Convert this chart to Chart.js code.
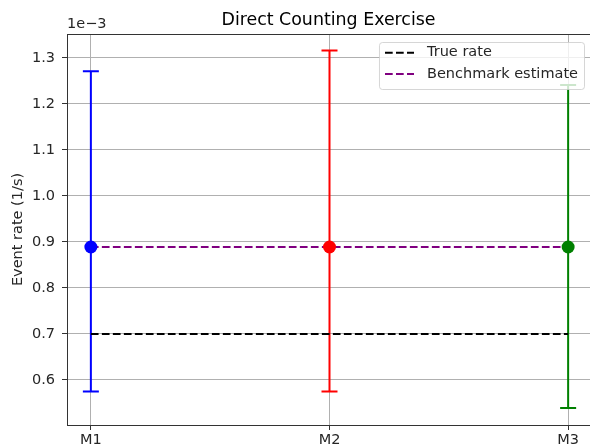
<!DOCTYPE html>
<html>
<head>
<meta charset="utf-8">
<script src="https://cdn.jsdelivr.net/npm/chart.js@4/dist/chart.umd.min.js"></script>
<style>
  html, body { margin: 0; padding: 0; background: #fff; overflow: hidden; }
  #wrap { width: 600px; height: 448px; position: relative; }
</style>
</head>
<body>
<div id="wrap"><canvas id="chart"></canvas></div>
<script>
const categories = ['M1', 'M2', 'M3'];
const rates = [0.000889, 0.000889, 0.000889];
const lower = [0.000575, 0.000575, 0.000539];
const upper = [0.001271, 0.001316, 0.001241];
const colors = ['#0000ff', '#ff0000', '#008000'];
const trueRate = 0.0007;
const benchmark = 0.000889;
const yTicks = [0.0006, 0.0007, 0.0008, 0.0009, 0.001, 0.0011, 0.0012, 0.0013];

const FONT = "'DejaVu Sans', sans-serif";
const SIZE = 14.5;
const TEXT = '#262626';

const decorations = {
  id: 'decorations',
  beforeDatasetsDraw(chart) {
    const { ctx, chartArea, scales: { x, y } } = chart;
    ctx.save();
    ctx.beginPath();
    ctx.rect(chartArea.left, chartArea.top, chartArea.right - chartArea.left, chartArea.bottom - chartArea.top);
    ctx.clip();
    ctx.lineWidth = 2;
    categories.forEach((c, i) => {
      const px = x.getPixelForValue(i);
      const lo = y.getPixelForValue(lower[i]);
      const hi = y.getPixelForValue(upper[i]);
      ctx.strokeStyle = colors[i];
      ctx.beginPath();
      ctx.moveTo(px, lo);
      ctx.lineTo(px, hi);
      ctx.moveTo(px - 8, lo);
      ctx.lineTo(px + 8, lo);
      ctx.moveTo(px - 8, hi);
      ctx.lineTo(px + 8, hi);
      ctx.stroke();
    });
    ctx.restore();
  },
  afterDraw(chart) {
    const { ctx, chartArea } = chart;
    ctx.save();
    // frame
    ctx.strokeStyle = '#333';
    ctx.lineWidth = 1;
    ctx.strokeRect(chartArea.left + 0.5, chartArea.top + 0.5, chartArea.right - chartArea.left, chartArea.bottom - chartArea.top);

    // title
    ctx.fillStyle = '#000';
    ctx.font = '17.4px ' + FONT;
    ctx.textAlign = 'center';
    ctx.textBaseline = 'alphabetic';
    ctx.fillText('Direct Counting Exercise', (chartArea.left + chartArea.right) / 2 - 1, 25);

    // offset text
    ctx.fillStyle = TEXT;
    ctx.font = SIZE + 'px ' + FONT;
    ctx.textAlign = 'left';
    ctx.fillText('1e\u22123', chartArea.left, 28);

    // legend
    const items = chart.data.datasets.filter(d => d.inLegend);
    const textW = Math.max(...items.map(d => ctx.measureText(d.label).width));
    const w = 6 + 29 + 13 + textW + 6;
    const h = 47;
    const bx = chartArea.right - 8 - w;
    const by = chartArea.top + 8;
    ctx.beginPath();
    ctx.roundRect(bx + 0.5, by + 0.5, w, h, 3);
    ctx.fillStyle = 'rgba(255,255,255,0.8)';
    ctx.fill();
    ctx.strokeStyle = 'rgba(204,204,204,0.8)';
    ctx.stroke();
    items.forEach((d, i) => {
      const cy = by + 10.7 + i * 21.3;
      ctx.strokeStyle = d.borderColor;
      ctx.lineWidth = 2;
      ctx.setLineDash(d.borderDash);
      ctx.beginPath();
      ctx.moveTo(bx + 6, cy);
      ctx.lineTo(bx + 35, cy);
      ctx.stroke();
      ctx.setLineDash([]);
      ctx.fillStyle = TEXT;
      ctx.textBaseline = 'middle';
      ctx.fillText(d.label, bx + 48, cy);
    });
    ctx.restore();
  }
};

new Chart(document.getElementById('chart'), {
  type: 'scatter',
  data: {
    datasets: [
      {
        label: 'Rates',
        data: rates.map((r, i) => ({ x: i, y: r })),
        backgroundColor: colors,
        borderWidth: 0,
        pointRadius: 6.5,
        order: 0,
      },
      {
        label: 'True rate',
        type: 'line',
        inLegend: true,
        data: [{ x: 0, y: trueRate }, { x: categories.length - 1, y: trueRate }],
        borderColor: '#000000',
        borderWidth: 2,
        borderDash: [7.7, 3.3],
        pointRadius: 0,
        order: 1,
      },
      {
        label: 'Benchmark estimate',
        type: 'line',
        inLegend: true,
        data: [{ x: 0, y: benchmark }, { x: categories.length - 1, y: benchmark }],
        borderColor: '#800080',
        borderWidth: 2,
        borderDash: [7.7, 3.3],
        pointRadius: 0,
        order: 1,
      },
    ],
  },
  options: {
    responsive: true,
    maintainAspectRatio: false,
    animation: false,
    layout: { padding: { top: 34, right: 8, left: 0, bottom: 0 } },
    plugins: {
      legend: { display: false },
      tooltip: { enabled: false },
    },
    scales: {
      x: {
        type: 'linear',
        min: -0.1,
        max: categories.length - 1 + 0.1,
        afterBuildTicks: (scale) => { scale.ticks = categories.map((c, i) => ({ value: i })); },
        afterFit: (scale) => { scale.height = 23; },
        ticks: {
          callback: (v) => categories[v],
          font: { family: FONT, size: SIZE },
          color: TEXT,
          padding: 2,
          maxRotation: 0,
        },
        grid: { color: '#b0b0b0', lineWidth: 1, tickLength: 5, tickColor: '#333' },
        border: { color: '#333', width: 1 },
      },
      y: {
        min: 0.000502,
        max: 0.001352,
        afterBuildTicks: (scale) => { scale.ticks = yTicks.map(v => ({ value: v })); },
        afterFit: (scale) => { scale.width = 67; },
        ticks: {
          callback: (v) => (v * 1000).toFixed(1),
          font: { family: FONT, size: SIZE },
          color: TEXT,
          padding: 7,
        },
        grid: { color: '#b0b0b0', lineWidth: 1, tickLength: 5, tickColor: '#333' },
        border: { color: '#333', width: 1 },
        title: {
          display: true,
          text: 'Event rate (1/s)',
          font: { family: FONT, size: SIZE },
          color: TEXT,
          padding: { top: 10, bottom: 0 },
        },
      },
    },
  },
  plugins: [decorations],
});
</script>
</body>
</html>
